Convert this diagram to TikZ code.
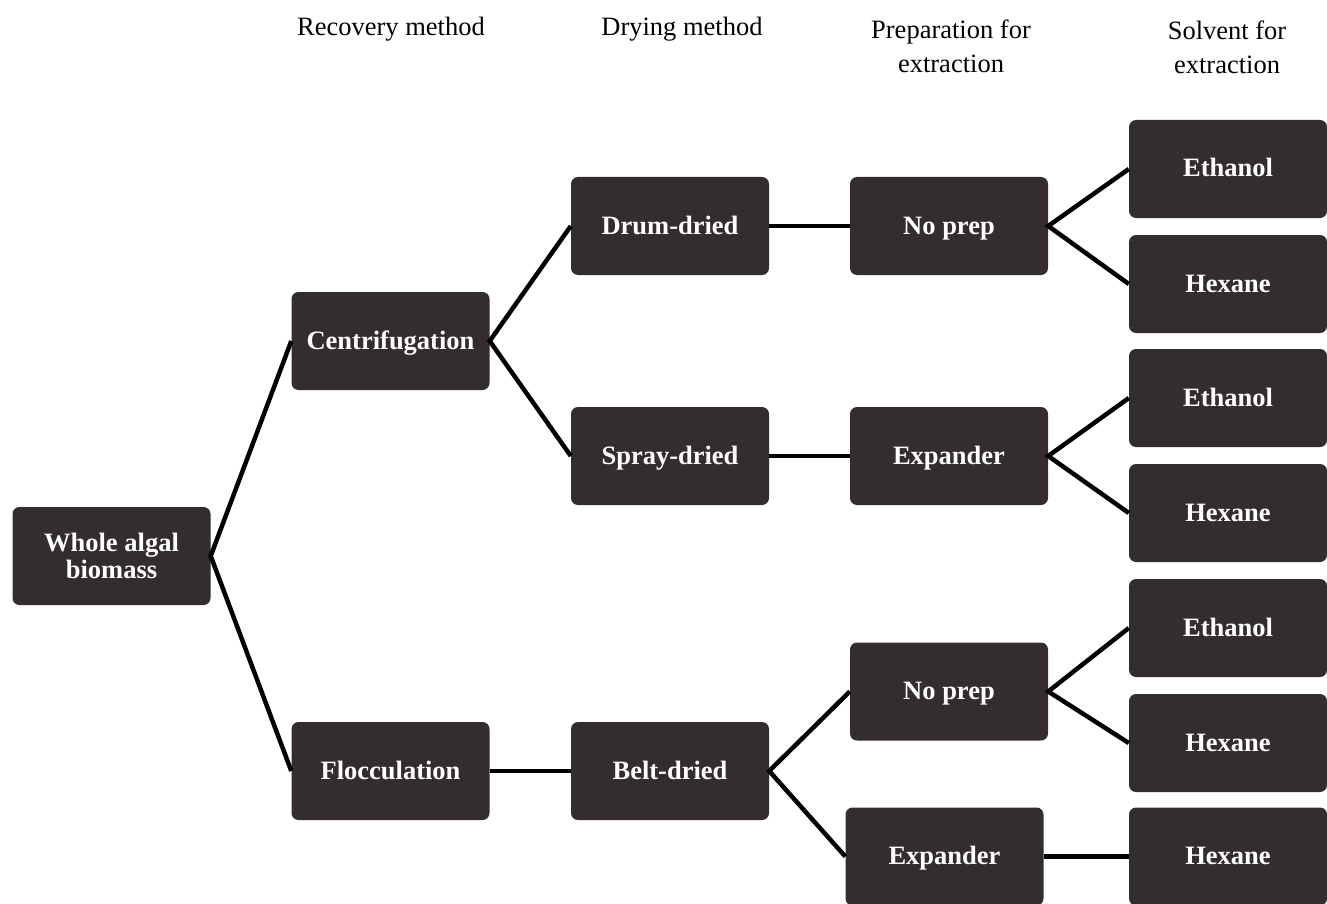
\documentclass[tikz,border=0pt]{standalone}
\usepackage{fontspec}
\setmainfont{Liberation Serif}
\definecolor{boxfill}{HTML}{332D2E}
\begin{document}
\begin{tikzpicture}[x=1pt,y=-1pt,
  box/.style={rectangle, rounded corners=7pt, fill=boxfill, draw=none,
    minimum width=198pt, minimum height=98pt, inner sep=0pt,
    text=white, font=\fontsize{26.5}{27}\selectfont\bfseries, align=center},
  one/.style={text height=18pt, text depth=2pt},
  hdr/.style={font=\fontsize{26.5}{34}\selectfont, align=center, inner sep=0pt},
  link/.style={line width=4.5pt, black}]
\useasboundingbox (0,0) rectangle (1327,904);
\clip (0,0) rectangle (1327,904);
% headers
\node[hdr] (h1) at (391,29) {Recovery method};
\node[hdr] (h2) at (682,29) {Drying method};
\node[hdr] (h3) at (951,46) {Preparation for\\extraction};
\node[hdr] (h4) at (1227,47) {Solvent for\\extraction};
% boxes
\node[box] (whole) at (111.5,556) {Whole algal\\biomass};
\node[box,one] (centr) at (390.5,341) {Centrifugation};
\node[box,one] (floc) at (390.5,771) {Flocculation};
\node[box,one] (drum) at (670,226) {Drum-dried};
\node[box,one] (spray) at (670,456) {Spray-dried};
\node[box,one] (belt) at (670,771) {Belt-dried};
\node[box,one] (np1) at (949,226) {No prep};
\node[box,one] (ex1) at (949,456) {Expander};
\node[box,one] (np2) at (949,691.5) {No prep};
\node[box,one] (ex2) at (944.5,856.5) {Expander};
\node[box,one] (s1) at (1228,169) {Ethanol};
\node[box,one] (s2) at (1228,284) {Hexane};
\node[box,one] (s3) at (1228,398) {Ethanol};
\node[box,one] (s4) at (1228,513) {Hexane};
\node[box,one] (s5) at (1228,628) {Ethanol};
\node[box,one] (s6) at (1228,743) {Hexane};
\node[box,one] (s7) at (1228,856.5) {Hexane};
% connectors
\draw[link] (centr.west) -- (whole.east) -- (floc.west);
\draw[link] (drum.west) -- (centr.east) -- (spray.west);
\draw[link] (floc.east) -- (belt.west);
\draw[link] (drum.east) -- (np1.west);
\draw[link] (spray.east) -- (ex1.west);
\draw[link] (np2.west) -- (belt.east) -- (ex2.west);
\draw[link] (s1.west) -- (np1.east) -- (s2.west);
\draw[link] (s3.west) -- (ex1.east) -- (s4.west);
\draw[link] (s5.west) -- (np2.east) -- (s6.west);
\draw[link] (ex2.east) -- (s7.west);
\end{tikzpicture}
\end{document}
